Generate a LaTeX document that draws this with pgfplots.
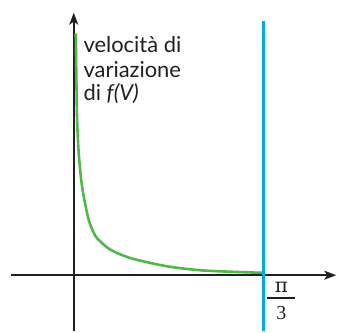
\documentclass[border=0pt]{standalone}
\usepackage{pgfplots}
\pgfplotsset{compat=1.18}
\usetikzlibrary{arrows.meta}
\usepackage{fontspec}
\setmainfont{Lato}
\newfontfamily\seriffont{Liberation Serif}
\newfontfamily\pifont{DejaVu Serif}

\definecolor{axisgray}{RGB}{35,31,32}
\definecolor{curvegreen}{RGB}{78,184,72}
\definecolor{limitblue}{RGB}{0,170,228}

\begin{document}
\begin{tikzpicture}
\begin{axis}[
  scale only axis,
  width=338bp, height=332bp,
  xmin=-73.3, xmax=264.7,
  ymin=-56.3, ymax=275.7,
  axis lines=middle,
  xtick=\empty, ytick=\empty,
  x axis line style={line width=1.6bp, color=axisgray,
    -{Stealth[length=12bp,width=9bp,inset=3bp]}, shorten <=10bp, shorten >=1bp},
  y axis line style={line width=1.6bp, color=axisgray,
    -{Stealth[length=12bp,width=9bp,inset=3bp]}, shorten >=12bp},
  clip=false,
]
% rate of change of f(V), falling towards zero at pi/3
\addplot[curvegreen, line width=2.6bp, smooth, tension=0.5] coordinates {
  (2.0,243) (2.6,200) (3.4,155.7) (5,122.7) (8.4,88.7) (15,55.7)
  (21.7,39.5) (26.7,34) (34,27.5) (43.4,22.4) (59.7,16.4) (93.4,9)
  (126.7,5) (159.7,3.4) (189.7,2.4)
};
% vertical line at V = pi/3
\addplot[limitblue, line width=2.6bp] coordinates {(190.7,-56.3) (190.7,255.7)};

\node[anchor=base west, font=\fontsize{22bp}{24bp}\selectfont, text=axisgray, inner sep=0pt]
  at (axis cs:9.7,223.4) {velocità di};
\node[anchor=base west, font=\fontsize{22bp}{24bp}\selectfont, text=axisgray, inner sep=0pt]
  at (axis cs:9.7,199.0) {variazione};
\node[anchor=base west, font=\fontsize{22bp}{24bp}\selectfont, text=axisgray, inner sep=0pt]
  at (axis cs:9.7,175.7) {di \textit{f(V)}};

% pi/3 label under the axis
\node[font=\fontsize{20bp}{24bp}\selectfont\pifont, text=axisgray, inner sep=0pt]
  at (axis cs:208.7,-12.3) {π};
\draw[axisgray, line width=1.8bp] (axis cs:193.7,-22.6) -- (axis cs:222.7,-22.6);
\node[font=\fontsize{20bp}{24bp}\selectfont\seriffont, text=axisgray, inner sep=0pt]
  at (axis cs:208.7,-37.8) {3};
\end{axis}
\end{tikzpicture}
\end{document}
